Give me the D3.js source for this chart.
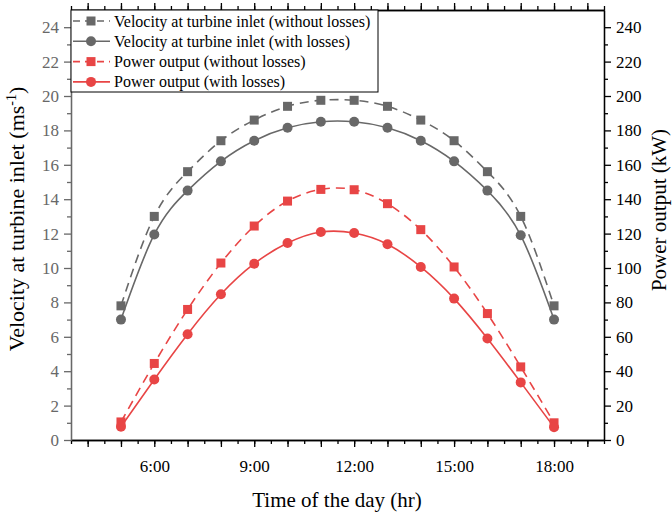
<!DOCTYPE html>
<html>
<head>
<meta charset="utf-8">
<script src="https://cdn.jsdelivr.net/npm/d3@7"></script>
<style>
  body { margin: 0; background: #fff; }
  svg { display: block; font-family: "Liberation Serif", "Times New Roman", serif; }
</style>
</head>
<body>
<div id="chart"></div>
<script>
// hours of the day
const hours = [5, 6, 7, 8, 9, 10, 11, 12, 13, 14, 15, 16, 17, 18];
// velocity at turbine inlet (m/s)
const velNoLoss = [7.8, 13.0, 15.6, 17.4, 18.6, 19.4, 19.75, 19.75, 19.4, 18.6, 17.4, 15.6, 13.0, 7.8];
const velLoss = [7.0, 11.95, 14.5, 16.2, 17.4, 18.15, 18.5, 18.5, 18.15, 17.4, 16.2, 14.5, 11.9, 7.0];
// power output (kW)
const powNoLoss = [10.5, 44.5, 75.9, 102.9, 124.4, 138.9, 145.7, 145.5, 137.4, 122.3, 100.6, 73.5, 42.5, 10.0];
const powLoss = [7.7, 35.2, 61.5, 84.7, 102.5, 114.5, 120.9, 120.3, 113.8, 100.6, 82.2, 59.0, 33.5, 7.4];

const xLabelTicks = [6, 9, 12, 15, 18];
const leftTicks = d3.range(0, 25, 2);
const rightTicks = d3.range(0, 250, 20);

const width = 672;
const height = 518;
const margin = { top: 10, right: 68, bottom: 78, left: 71 };

const gray = "#686868";
const red = "#e84545";

const svg = d3.select("#chart")
    .append("svg")
    .attr("width", width)
    .attr("height", height);

const x = d3.scaleLinear()
    .domain([3.5, 19.5])
    .range([margin.left, width - margin.right]);

const yL = d3.scaleLinear()
    .domain([0, 25])
    .range([height - margin.bottom, margin.top]);

const yR = d3.scaleLinear()
    .domain([0, 250])
    .range([height - margin.bottom, margin.top]);

// axes
function styleAxis(g, color) {
    g.select(".domain").attr("stroke", color).attr("stroke-width", 1.3);
    g.selectAll(".tick line").attr("stroke", color).attr("stroke-width", 1.3);
    g.selectAll(".tick text").attr("fill", color).attr("font-size", "17px")
        .attr("font-family", "Liberation Serif");
}

// bottom: minor every half hour, major every hour
svg.append("g")
    .attr("transform", `translate(0,${height - margin.bottom})`)
    .call(d3.axisBottom(x).tickValues(d3.range(3.5, 19.6, 0.5)).tickFormat("").tickSize(4).tickSizeOuter(0))
    .call(g => styleAxis(g, "#000"));
svg.append("g")
    .attr("transform", `translate(0,${height - margin.bottom})`)
    .call(d3.axisBottom(x).tickValues(d3.range(4, 20, 1)).tickSize(7).tickSizeOuter(0)
        .tickPadding(13)
        .tickFormat(d => xLabelTicks.includes(d) ? `${d}:00` : ""))
    .call(g => styleAxis(g, "#000"));

// top mirror
svg.append("g")
    .attr("transform", `translate(0,${margin.top})`)
    .call(d3.axisTop(x).tickValues(d3.range(3.5, 19.6, 0.5)).tickFormat("").tickSize(4).tickSizeOuter(0))
    .call(g => styleAxis(g, "#000"));
svg.append("g")
    .attr("transform", `translate(0,${margin.top})`)
    .call(d3.axisTop(x).tickValues(d3.range(4, 20, 1)).tickFormat("").tickSize(7).tickSizeOuter(0))
    .call(g => styleAxis(g, "#000"));

// left axis (velocity)
svg.append("g")
    .attr("transform", `translate(${margin.left},0)`)
    .call(d3.axisLeft(yL).tickValues(d3.range(1, 25, 2)).tickFormat("").tickSize(4).tickSizeOuter(0))
    .call(g => styleAxis(g, gray));
svg.append("g")
    .attr("transform", `translate(${margin.left},0)`)
    .call(d3.axisLeft(yL).tickValues(leftTicks).tickSize(7).tickPadding(5).tickSizeOuter(0))
    .call(g => styleAxis(g, gray));

// right axis (power)
svg.append("g")
    .attr("transform", `translate(${width - margin.right},0)`)
    .call(d3.axisRight(yR).tickValues(d3.range(10, 250, 20)).tickFormat("").tickSize(4).tickSizeOuter(0))
    .call(g => styleAxis(g, "#000"));
svg.append("g")
    .attr("transform", `translate(${width - margin.right},0)`)
    .call(d3.axisRight(yR).tickValues(rightTicks).tickSize(7).tickPadding(5).tickSizeOuter(0))
    .call(g => styleAxis(g, "#000"));

// axis titles
svg.append("text")
    .attr("x", 337)
    .attr("y", 507)
    .attr("text-anchor", "middle")
    .attr("font-size", "21px")
    .text("Time of the day (hr)");

const lt = svg.append("text")
    .attr("transform", "translate(24,219) rotate(-90)")
    .attr("text-anchor", "middle")
    .attr("font-size", "22px");
lt.append("tspan").text("Velocity at turbine inlet (ms");
lt.append("tspan").attr("font-size", "14px").attr("dy", -8).text("-1");
lt.append("tspan").attr("dy", 8).text(")");

svg.append("text")
    .attr("transform", "translate(666,210) rotate(-90)")
    .attr("text-anchor", "middle")
    .attr("font-size", "21px")
    .text("Power output (kW)");

// series
const series = [
    { name: "Velocity at turbine inlet (without losses)", values: velNoLoss, y: yL, color: gray, dash: "9,6", marker: "square" },
    { name: "Velocity at turbine inlet (with losses)", values: velLoss, y: yL, color: gray, dash: null, marker: "circle" },
    { name: "Power output (without losses)", values: powNoLoss, y: yR, color: red, dash: "9,6", marker: "square" },
    { name: "Power output (with losses)", values: powLoss, y: yR, color: red, dash: null, marker: "circle" }
];

function drawMarker(g, s, cx, cy) {
    if (s.marker === "square") {
        g.append("rect")
            .attr("x", cx - 4.5).attr("y", cy - 4.5)
            .attr("width", 9).attr("height", 9)
            .attr("fill", s.color);
    } else {
        g.append("circle")
            .attr("cx", cx).attr("cy", cy).attr("r", 5)
            .attr("fill", s.color);
    }
}

series.forEach(s => {
    const line = d3.line()
        .x((d, i) => x(hours[i]))
        .y(d => s.y(d))
        .curve(d3.curveNatural);
    svg.append("path")
        .datum(s.values)
        .attr("fill", "none")
        .attr("stroke", s.color)
        .attr("stroke-width", 1.6)
        .attr("stroke-dasharray", s.dash)
        .attr("d", line);
    const g = svg.append("g");
    s.values.forEach((v, i) => drawMarker(g, s, x(hours[i]), s.y(v)));
});

// legend
const legend = svg.append("g");
legend.append("rect")
    .attr("x", margin.left)
    .attr("y", margin.top)
    .attr("width", 307)
    .attr("height", 82)
    .attr("fill", "#fff")
    .attr("stroke", "#000")
    .attr("stroke-width", 1);

series.forEach((s, i) => {
    const cy = 21 + i * 20.3;
    legend.append("line")
        .attr("x1", 73).attr("x2", 110)
        .attr("y1", cy).attr("y2", cy)
        .attr("stroke", s.color)
        .attr("stroke-width", 1.6)
        .attr("stroke-dasharray", s.dash ? "7,5" : null);
    drawMarker(legend, s, 91, cy);
    legend.append("text")
        .attr("x", 114)
        .attr("y", cy + 5.5)
        .attr("font-size", "16px")
        .text(s.name);
});
</script>
</body>
</html>
